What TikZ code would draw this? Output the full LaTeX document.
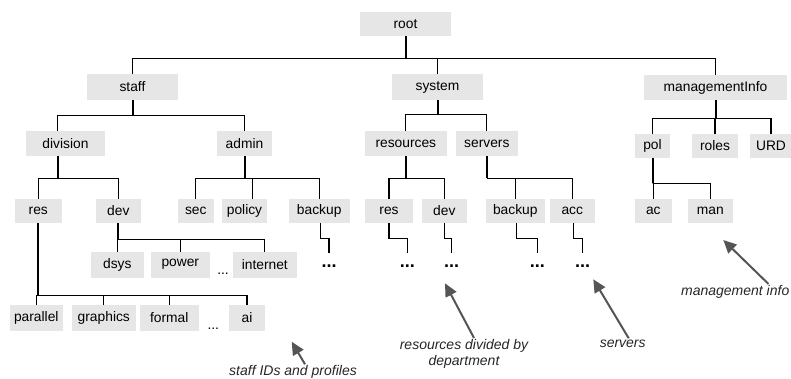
\documentclass[tikz,border=0pt]{standalone}
\usepackage{fontspec}
\setmainfont{Liberation Sans}
\usetikzlibrary{arrows.meta}
\definecolor{boxgray}{HTML}{E6E6E6}
\definecolor{arrowgray}{HTML}{555555}
\begin{document}
\begin{tikzpicture}[x=1pt, y=-1pt, >={Triangle[length=13pt,width=12pt]},
	box/.style={fill=boxgray, inner sep=0pt, minimum height=25pt, font=\fontsize{13.8}{15}\selectfont},
	bus/.style={line width=1.3pt},
	drop/.style={line width=2pt},
	more/.style={anchor=base, inner sep=0pt, text height=14pt, font=\bfseries\fontsize{18}{18}\selectfont},
	gap/.style={anchor=base, inner sep=0pt, font=\fontsize{13.8}{15}\selectfont},
	note/.style={inner sep=1pt, text=black!85, font=\itshape\fontsize{14}{16.6}\selectfont},
	pointer/.style={->, arrowgray, line width=2pt}]
			\useasboundingbox (0,0) rectangle (791,379);
			\node[box, minimum width=91pt, minimum height=24pt] (root) at (405.5,24) {root};
			\node[box, minimum width=91pt, minimum height=26pt] (staff) at (132.5,87) {staff};
			\node[box, minimum width=91pt, minimum height=26pt] (system) at (437.5,87) {system};
			\node[box, minimum width=143pt] (mgmt) at (715.5,87.5) {managementInfo};
			\node[box, minimum width=79pt] (division) at (65.5,143.5) {division};
			\node[box, minimum width=55pt] (admin) at (244.5,143.5) {admin};
			\node[box, minimum width=82pt] (resources) at (405.8,143.5) {resources};
			\node[box, minimum width=62pt] (servers) at (486.8,143.5) {servers};
			\node[box, minimum width=35pt, minimum height=24pt] (pol) at (652.5,146) {pol};
			\node[box, minimum width=46pt, minimum height=24pt] (roles) at (715,146) {roles};
			\node[box, minimum width=42pt, minimum height=24pt] (urd) at (771,146) {URD};
			\node[box, minimum width=47pt, minimum height=24pt] (res1) at (38.3,211) {res};
			\node[box, minimum width=45pt, minimum height=24pt] (dev1) at (118.3,211) {dev};
			\node[box, minimum width=36pt, minimum height=24pt] (sec) at (195.8,211) {sec};
			\node[box, minimum width=45pt, minimum height=24pt] (policy) at (244.5,211) {policy};
			\node[box, minimum width=61pt, minimum height=24pt] (backup1) at (319.2,211) {backup};
			\node[box, minimum width=48pt, minimum height=24pt] (res2) at (389,211) {res};
			\node[box, minimum width=45pt, minimum height=24pt] (dev2) at (444.3,211) {dev};
			\node[box, minimum width=59pt, minimum height=24pt] (backup2) at (515.3,211) {backup};
			\node[box, minimum width=45pt, minimum height=24pt] (acc) at (572.3,211) {acc};
			\node[box, minimum width=37pt, minimum height=24pt] (ac) at (653.3,211) {ac};
			\node[box, minimum width=45pt, minimum height=24pt] (man) at (710.3,211) {man};
			\node[box, minimum width=53pt, minimum height=26pt] (dsys) at (117.3,264.7) {dsys};
			\node[box, minimum width=59pt, minimum height=26pt] (power) at (180.3,264.7) {power};
			\node[box, minimum width=64pt, minimum height=26pt] (internet) at (264.8,264.7) {internet};
			\node[box, minimum width=53pt, minimum height=26pt] (parallel) at (36.3,318) {parallel};
			\node[box, minimum width=64pt, minimum height=26pt] (graphics) at (103.8,318) {graphics};
			\node[box, minimum width=59pt, minimum height=26pt] (formal) at (169.3,318) {formal};
			\node[box, minimum width=36pt, minimum height=26pt] (ai) at (247,318) {ai};
			\node[gap] (devgap) at (223,274.3) {...};
			\node[gap] (resgap) at (213.3,329) {...};
			\node[more] (more1) at (329,267.5) {...};
			\node[more] (more2) at (407.3,267.5) {...};
			\node[more] (more3) at (451.7,267.5) {...};
			\node[more] (more4) at (537.3,267.5) {...};
			\node[more] (more5) at (582.7,267.5) {...};
			\draw[drop] (root.south) -- ++(0,22) coordinate (rootbus);
			\draw[bus] (staff.north) |- (rootbus) -| (mgmt.north);
			\draw[bus] (system.north) -- (system.north |- rootbus);
			\draw[drop] (staff.south) -- ++(0,15) coordinate (staffbus);
			\draw[bus] ([xshift=-8pt]division.north) |- (staffbus) -| (admin.north);
			\draw[drop] ([xshift=-8pt]division.south) -- ++(0,22) coordinate (divbus);
			\draw[bus] (res1.north) |- (divbus) -| (dev1.north);
			\draw[drop] (admin.south) -- ++(0,22) coordinate (adminbus);
			\draw[bus] (sec.north) |- (adminbus) -| (backup1.north);
			\draw[bus] ([xshift=8pt]policy.north) -- ++(0,-21);
			\draw[drop] (system.south) -- ++(0,14) coordinate (sysbus);
			\draw[bus] (resources.north) |- (sysbus) -| (servers.north);
			\draw[drop] (resources.south) -- ++(0,22) coordinate (resbus);
			\draw[bus] (res2.north) |- (resbus) -| (dev2.north);
			\draw[drop] (servers.south) -- ++(0,22) coordinate (srvbus);
			\draw[bus] (srvbus) -| (acc.north);
			\draw[bus] (backup2.north) -- (backup2.north |- srvbus);
			\draw[drop] (mgmt.south) -- ++(0,18) coordinate (mgmtbus);
			\draw[bus] (pol.north) |- (mgmtbus) -| (urd.north);
			\draw[bus] (roles.north) -- (roles.north |- mgmtbus);
			\draw[drop] (pol.south) -- ++(0,25) coordinate (polbus);
			\draw[bus] (ac.north) |- (polbus) -| (man.north);
			\draw[drop] (dev1.south) -- ++(0,16) coordinate (devbus);
			\draw[bus] (dsys.north) |- (devbus) -| (internet.north);
			\draw[bus] (power.north) -- (power.north |- devbus);
			\draw[drop] (res1.south) -- ++(0,72) coordinate (leafbus);
			\draw[bus] (parallel.north) |- (leafbus) -| (ai.north);
			\draw[bus] (graphics.north) -- (graphics.north |- leafbus);
			\draw[bus] (formal.north) -- (formal.north |- leafbus);
			\draw[bus] ([xshift=1pt]backup1.south) -- ++(0,15) -| (more1.north);
			\draw[bus] (res2.south) -- ++(0,15) -| (more2.north);
			\draw[bus] (dev2.south) -- ++(0,15) -| (more3.north);
			\draw[bus] ([xshift=1pt]backup2.south) -- ++(0,15) -| (more4.north);
			\draw[bus] ([xshift=1pt]acc.south) -- ++(0,15) -| (more5.north);
			\node[note] (ids) at (293,372) {staff IDs and profiles};
			\node[note, align=center] (bydept) at (464,354) {resources divided by\\department};
			\node[note] (srvnote) at (622.7,343.3) {servers};
			\node[note, anchor=east] (mgmtnote) at (790.5,291.7) {management info};
			\draw[pointer] ([xshift=-22pt]mgmtnote.north east) -- (723.3,240);
			\draw[pointer] ([xshift=12pt]ids.north) -- (291.7,341.7);
			\draw[pointer] ([xshift=10pt]bydept.north) -- (445,283.3);
			\draw[pointer] ([xshift=6pt]srvnote.north) -- (593.3,279.3);
		\end{tikzpicture}
\end{document}
